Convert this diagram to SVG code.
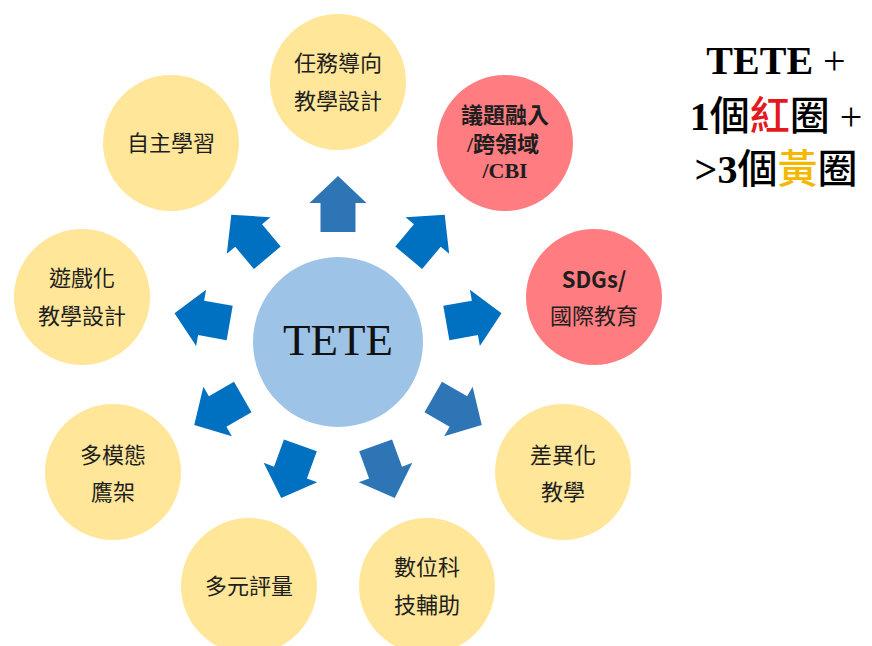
<svg xmlns="http://www.w3.org/2000/svg" xmlns:xlink="http://www.w3.org/1999/xlink" width="872" height="646" viewBox="0 0 872 646">
<style>
.y{fill:#FFE699}
.r{fill:#FF7C80}
.c{fill:#9DC3E6}
.a1{fill:#0070C0}
.a2{fill:#2E75B6}
.t{font-family:"Noto Sans CJK TC","Noto Sans CJK SC",sans-serif;font-size:22px;fill:#1e1e1e;text-anchor:middle}
.tb{font-family:"Liberation Serif",serif;font-weight:bold}
.ttl{font-family:"Liberation Serif","Noto Sans CJK TC",serif;font-size:40px;font-weight:bold;fill:#000;text-anchor:middle}
.cj{font-family:"Noto Sans CJK TC",sans-serif;font-weight:500}
</style>
<defs>
<polygon id="arr" points="110,-17.5 139,-17.5 139,-28.5 166,0 139,28.5 139,17.5 110,17.5"/>
</defs>
<rect width="872" height="646" fill="#fff"/>
<g id="connectors">
<use xlink:href="#arr" class="a2" transform="translate(338,342) rotate(-90)"/>
<use xlink:href="#arr" class="a1" transform="translate(338,342) rotate(-50)"/>
<use xlink:href="#arr" class="a1" transform="translate(338,342) rotate(-10)"/>
<use xlink:href="#arr" class="a2" transform="translate(338,342) rotate(30)"/>
<use xlink:href="#arr" class="a2" transform="translate(338,342) rotate(70)"/>
<use xlink:href="#arr" class="a1" transform="translate(338,342) rotate(110)"/>
<use xlink:href="#arr" class="a1" transform="translate(338,342) rotate(150)"/>
<use xlink:href="#arr" class="a1" transform="translate(338,342) rotate(190)"/>
<use xlink:href="#arr" class="a1" transform="translate(338,342) rotate(230)"/>
</g>
<g id="center">
<circle class="c" cx="338" cy="342" r="85"/>
<text x="338" y="355" font-family="Liberation Serif,serif" font-size="45" fill="#111" text-anchor="middle">TETE</text>
</g>
<g id="n-task">
<circle class="y" cx="338" cy="82" r="68"/>
<text class="t" x="338" y="71">任務導向</text>
<text class="t" x="338" y="109">教學設計</text>
</g>
<g id="n-self">
<circle class="y" cx="171" cy="143" r="68"/>
<text class="t" x="171" y="151">自主學習</text>
</g>
<g id="n-issue">
<circle class="r" cx="505" cy="143" r="68"/>
<text class="t" x="505" y="123" font-weight="bold">議題融入</text>
<text class="t" x="503" y="152" font-weight="bold"><tspan class="tb">/</tspan>跨領域</text>
<text class="t tb" x="505" y="178" font-size="23">/CBI</text>
</g>
<g id="n-sdgs">
<circle class="r" cx="594" cy="297" r="68"/>
<text class="t" x="594" y="288" font-family="Liberation Sans,sans-serif" font-weight="bold" font-size="21">SDGs/</text>
<text class="t" x="594" y="324" font-size="23">國際教育</text>
</g>
<g id="n-diff">
<circle class="y" cx="563" cy="472" r="68"/>
<text class="t" x="563" y="463">差異化</text>
<text class="t" x="563" y="500">教學</text>
</g>
<g id="n-digital">
<circle class="y" cx="427" cy="586" r="68"/>
<text class="t" x="427" y="575">數位科</text>
<text class="t" x="427" y="613">技輔助</text>
</g>
<g id="n-assess">
<circle class="y" cx="249" cy="586" r="68"/>
<text class="t" x="249" y="594">多元評量</text>
</g>
<g id="n-multi">
<circle class="y" cx="113" cy="472" r="68"/>
<text class="t" x="113" y="463">多模態</text>
<text class="t" x="113" y="500">鷹架</text>
</g>
<g id="n-game">
<circle class="y" cx="82" cy="297" r="68"/>
<text class="t" x="82" y="286">遊戲化</text>
<text class="t" x="82" y="324">教學設計</text>
</g>
<g id="title">
<text class="ttl" x="776" y="74">TETE <tspan font-weight="normal">+</tspan></text>
<text class="ttl" x="776" y="130">1<tspan class="cj">個</tspan><tspan class="cj" fill="#E3191E">紅</tspan><tspan class="cj">圈</tspan> <tspan font-weight="normal">+</tspan></text>
<text class="ttl" x="776" y="183">&gt;3<tspan class="cj">個</tspan><tspan class="cj" fill="#F5B800">黃</tspan><tspan class="cj">圈</tspan></text>
</g>
</svg>
